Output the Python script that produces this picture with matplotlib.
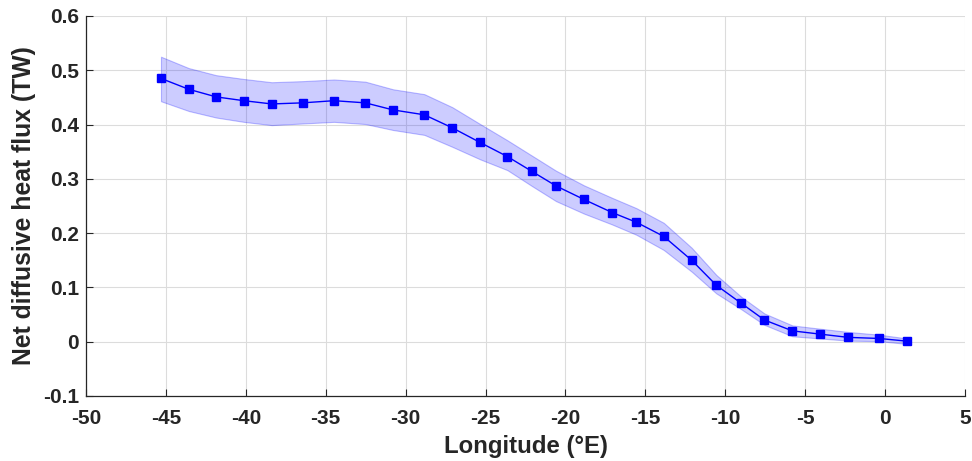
import matplotlib
matplotlib.use("Agg")
import matplotlib.pyplot as plt
from matplotlib import font_manager

lon = [-45.31, -43.57, -41.86, -40.13, -38.38, -36.44, -34.48, -32.52, -30.79, -28.83,
       -27.08, -25.34, -23.63, -22.11, -20.59, -18.84, -17.08, -15.56, -13.85, -12.10,
       -10.56, -9.01, -7.55, -5.80, -4.07, -2.31, -0.38, 1.38]
flux = [0.485, 0.465, 0.451, 0.444, 0.438, 0.440, 0.444, 0.440, 0.427, 0.418,
        0.394, 0.367, 0.341, 0.314, 0.287, 0.262, 0.238, 0.220, 0.194, 0.150,
        0.104, 0.071, 0.040, 0.020, 0.014, 0.008, 0.006, 0.001]
upper = [0.525, 0.504, 0.491, 0.484, 0.478, 0.480, 0.483, 0.479, 0.465, 0.456,
         0.432, 0.401, 0.371, 0.343, 0.315, 0.288, 0.265, 0.246, 0.219, 0.173,
         0.123, 0.083, 0.052, 0.030, 0.024, 0.018, 0.013, 0.006]
lower = [0.443, 0.425, 0.413, 0.405, 0.399, 0.402, 0.405, 0.401, 0.390, 0.381,
         0.359, 0.336, 0.316, 0.287, 0.259, 0.236, 0.216, 0.197, 0.169, 0.129,
         0.089, 0.060, 0.031, 0.010, 0.006, 0.002, 0.001, -0.004]

xticks = [-50, -45, -40, -35, -30, -25, -20, -15, -10, -5, 0, 5]
yticks = [-0.1, 0, 0.1, 0.2, 0.3, 0.4, 0.5, 0.6]
ytick_labels = ["-0.1", "0", "0.1", "0.2", "0.3", "0.4", "0.5", "0.6"]

names = {f.name for f in font_manager.fontManager.ttflist}
fam = "Liberation Sans Narrow" if "Liberation Sans Narrow" in names else "Liberation Sans"
plt.rcParams["font.family"] = [fam, "DejaVu Sans"]
plt.rcParams["font.weight"] = "bold"

fig = plt.figure(figsize=(9.72, 4.61), dpi=100)
ax = fig.add_axes([0.0885, 0.141, 0.9043, 0.8243])

ax.fill_between(lon, lower, upper, facecolor=(0, 0, 1, 0.2), edgecolor=(0, 0, 1, 0.25), linewidth=0.8, zorder=2)
ax.plot(lon, flux, color="blue", linewidth=1.0, marker="s", markersize=6, markerfacecolor="blue",
        markeredgecolor="blue", zorder=3)

ax.set_xlim(-50, 5)
ax.set_ylim(-0.1, 0.6)
ax.set_xticks(xticks)
ax.set_xticklabels([str(t) for t in xticks])
ax.set_yticks(yticks)
ax.set_yticklabels(ytick_labels)
ax.grid(True, color="#dcdcdc", linewidth=0.8)
ax.set_axisbelow(True)
for s in ["top", "right"]:
    ax.spines[s].set_visible(False)
for s in ["left", "bottom"]:
    ax.spines[s].set_color("#262626")
    ax.spines[s].set_linewidth(0.9)
ax.tick_params(direction="in", length=5, width=0.8, colors="#262626", labelsize=15,
               labelcolor="#262626")
ax.tick_params(axis="x", pad=9.3)
ax.tick_params(axis="y", pad=5)
for lab in ax.get_xticklabels() + ax.get_yticklabels():
    lab.set_fontweight("bold")

ax.set_xlabel("Longitude (°E)", fontsize=17.3, fontweight="bold", color="#262626", labelpad=5)
ax.set_ylabel("Net diffusive heat flux (TW)", fontsize=17.8, fontweight="bold", color="#262626", labelpad=5)

fig.savefig("out.png", dpi=100)
